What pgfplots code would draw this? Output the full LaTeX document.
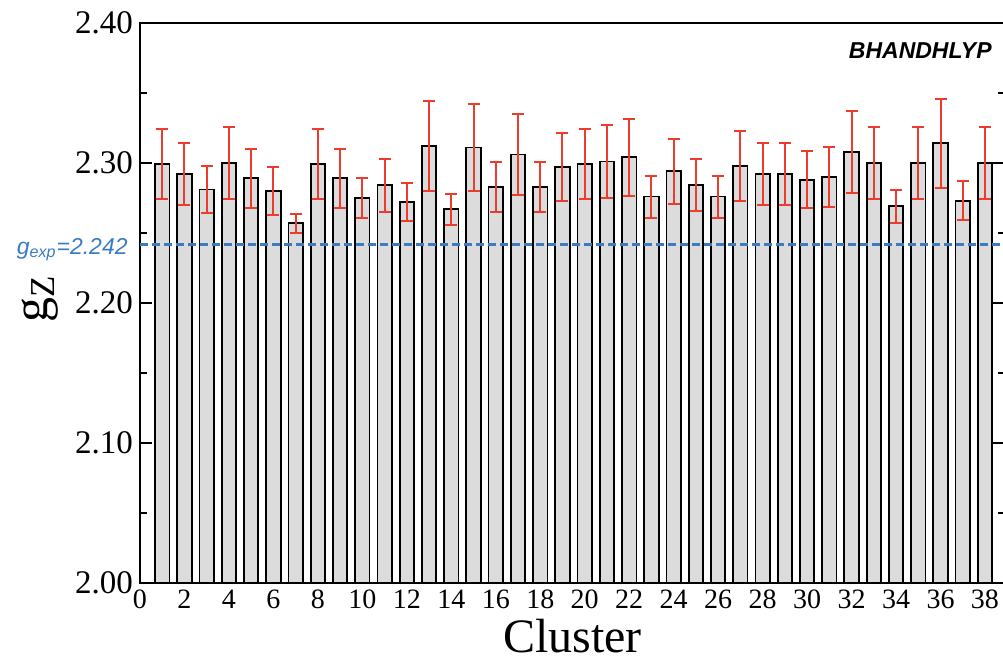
\documentclass[border=0pt]{standalone}
\usepackage{fontspec}
\setmainfont{Liberation Serif}
\newfontfamily\arialfont{Liberation Sans}
\usepackage{pgfplots}
\usepackage{pgfplotstable}
\pgfplotsset{compat=1.18}

\definecolor{errred}{RGB}{235,60,45}
\definecolor{barfill}{RGB}{220,220,220}
\definecolor{expblue}{RGB}{58,124,196}

% cluster, g_Z, uncertainty
\pgfplotstableread{
x  y      e
1  2.299  0.025
2  2.292  0.022
3  2.281  0.017
4  2.300  0.026
5  2.289  0.021
6  2.280  0.017
7  2.257  0.0067
8  2.299  0.025
9  2.289  0.021
10 2.275  0.0146
11 2.284  0.0187
12 2.272  0.0135
13 2.312  0.032
14 2.267  0.011
15 2.311  0.031
16 2.283  0.018
17 2.306  0.0287
18 2.283  0.018
19 2.297  0.0245
20 2.299  0.025
21 2.301  0.026
22 2.304  0.0277
23 2.276  0.015
24 2.294  0.023
25 2.284  0.0186
26 2.276  0.015
27 2.298  0.025
28 2.292  0.0223
29 2.292  0.0223
30 2.288  0.0205
31 2.290  0.0213
32 2.308  0.0294
33 2.300  0.0258
34 2.269  0.012
35 2.300  0.0258
36 2.314  0.032
37 2.273  0.014
38 2.300  0.0258
}\gdata

\begin{document}
\begin{tikzpicture}
\begin{axis}[
  scale only axis,
  width=432.5pt, height=280pt,
  xmin=0, xmax=38.9,
  ymin=2.0, ymax=2.4,
  xtick={0,2,...,38},
  ytick={2.0,2.1,2.2,2.3,2.4},
  minor ytick={2.05,2.15,2.25,2.35},
  /pgf/number format/assume math mode=true,
  yticklabel style={font=\fontsize{16.5}{18}\selectfont,
    /pgf/number format/fixed,
    /pgf/number format/fixed zerofill,
    /pgf/number format/precision=2},
  xticklabel style={font=\fontsize{14}{16}\selectfont},
  tick align=inside,
  major tick length=6pt,
  minor tick length=3.5pt,
  xtick style={draw=none},
  ytick style={black, line width=0.8pt},
  axis line style={line width=0.8pt},
  xlabel={Cluster},
  xlabel style={font=\fontsize{24}{26}\selectfont, at={(axis description cs:0.5,-0.125)}, anchor=base},
  ylabel={g\textsubscript{Z}},
  ylabel style={font=\fontsize{25}{27}\selectfont, at={(axis description cs:-0.1156,0.507)}, anchor=center},
]
\addplot[ybar, bar width=7.2pt, fill=barfill, draw=black, line width=0.9pt,
  error bars/.cd, y dir=both, y explicit,
  error bar style={draw=errred, line width=1pt},
  error mark options={draw=errred, line width=1pt, mark size=3pt, rotate=90}]
  table[x=x, y=y, y error=e]{\gdata};
% experimental reference value
\addplot[expblue, line width=1.5pt, dash pattern=on 4pt off 2pt] coordinates {(0,2.242) (38.9,2.242)};
\coordinate (O) at (rel axis cs:0,0);
\coordinate (gexp) at (axis cs:0,2.242);
\coordinate (lbl) at (rel axis cs:0.985,0.937);
\end{axis}
\node[anchor=base east, inner sep=0pt, text=expblue,
  font=\arialfont\itshape\fontsize{11.5}{12}\selectfont]
  at ([xshift=-6pt,yshift=-5pt]gexp) {g\textsubscript{exp}=2.242};
\node[anchor=base east, inner sep=0pt,
  font=\arialfont\bfseries\itshape\fontsize{11.5}{12}\selectfont]
  at (lbl) {BHANDHLYP};
\pgfresetboundingbox
\path[use as bounding box] ([shift={(-70pt,-40pt)}]O) rectangle ([shift={(431.5pt,291.5pt)}]O);
\end{tikzpicture}
\end{document}
